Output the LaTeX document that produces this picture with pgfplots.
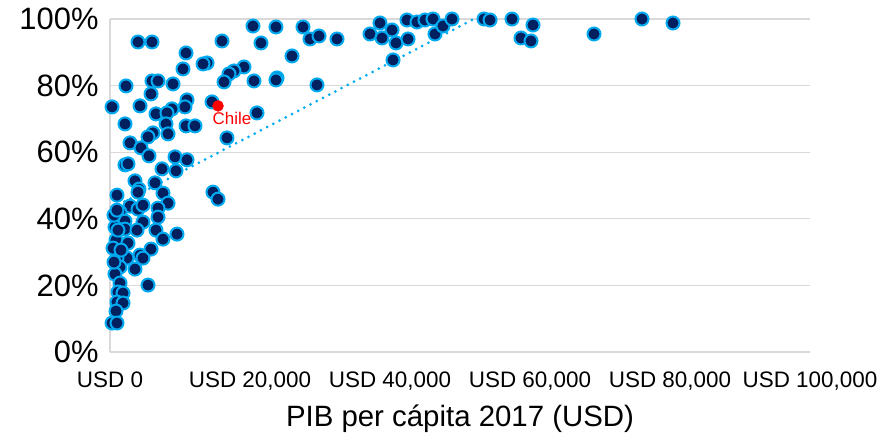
\documentclass[border=0pt]{standalone}
\usepackage{fontspec}
\setmainfont{Liberation Sans}
\usepackage{pgfplots}
\usepackage{pgfplotstable}
\pgfplotsset{compat=1.18}
\definecolor{navy}{RGB}{0,32,96}
\definecolor{lblue}{RGB}{0,170,240}
\definecolor{gridg}{RGB}{217,217,217}
\pgfplotstableread{
x y
4000 93.1
6000 93.1
10860 89.8
10430 85.0
13860 86.8
13290 86.5
2290 79.9
6000 81.4
6860 81.4
9000 80.5
5860 77.5
290 73.6
4290 73.9
11000 75.7
6570 71.5
8860 73.0
8140 71.8
10710 73.6
2140 68.5
8000 68.5
10860 67.9
12140 67.9
6140 65.8
5430 64.6
8290 65.5
2860 62.8
4430 61.3
5570 58.9
9290 58.6
11000 57.7
2140 56.2
2570 56.5
7430 55.0
9430 54.4
3570 51.4
6430 50.8
4140 48.9
7570 47.7
1000 47.1
14710 48.0
15430 45.9
4000 48.0
8290 44.7
2860 43.8
4000 42.9
4710 44.1
6860 43.2
6860 40.5
1430 42.0
2140 39.3
4710 39.0
710 37.5
2140 36.9
3860 36.6
6570 36.6
9570 35.4
7570 33.9
860 33.6
2570 32.7
5860 30.9
4290 29.1
2430 28.2
1000 28.2
4710 28.2
3570 24.9
1430 25.5
710 23.4
5430 20.1
1430 20.7
1140 18.0
1860 17.7
1000 15.0
1860 14.7
860 12.3
290 8.7
1000 8.7
570 41.1
430 31.2
570 27.0
1140 36.6
1570 30.6
1000 42.6
20430 97.9
23710 97.6
27570 97.6
28570 94.0
29860 94.9
32430 94.0
16000 93.4
21570 92.8
26000 88.9
19140 85.6
17710 84.4
17000 83.5
16290 81.1
20570 81.4
23860 82.3
23710 81.7
29570 80.2
14570 75.1
21000 71.8
16710 64.3
37140 95.5
38570 98.8
40290 96.7
38860 94.3
40860 92.8
42430 99.7
42570 94.0
43860 99.1
45000 99.7
46140 100.0
46430 95.5
47570 97.9
48860 100.0
40430 87.7
53430 100.0
54290 99.7
57430 100.0
60430 98.2
58710 94.3
60140 93.4
69140 95.5
76000 100.0
80430 98.8
}\countries
\begin{document}
\begin{tikzpicture}
\path[use as bounding box] (0,0) rectangle (887bp,440bp);
\begin{axis}[
  at={(110bp,88bp)}, anchor=south west,
  scale only axis, width=700bp, height=333bp,
  xmin=0, xmax=100000, ymin=0, ymax=100,
  scaled x ticks=false,
  axis x line*=bottom, axis y line*=left,
  axis line style={gridg, line width=1.5bp},
  x axis line style={-}, y axis line style={-},
  ymajorgrids, grid style={gridg, line width=1.2bp},
  major tick length=0pt,
  xtick={0,20000,40000,60000,80000,100000},
  xticklabels={{USD 0},{USD 20,000},{USD 40,000},{USD 60,000},{USD 80,000},{USD 100,000}},
  ytick={0,20,40,60,80,100},
  yticklabels={0\%,20\%,40\%,60\%,80\%,100\%},
  /pgf/number format/assume math mode=true,
  x tick label style={font=\fontsize{22.5}{26}\selectfont, yshift=-16bp},
  y tick label style={font=\fontsize{31}{34}\selectfont, xshift=-8bp},
  xlabel={PIB per cápita 2017 (USD)},
  xlabel style={font=\fontsize{29.5}{33}\selectfont, yshift=-8bp},
  clip=false,
]
\addplot[lblue, line width=3bp, line cap=round, dash pattern=on 0bp off 7bp] coordinates {(290,43.2) (51710,99.7)};
\addplot[only marks, mark=*, mark size=6.5bp, mark options={fill=navy, draw=lblue, line width=2bp}] table[x=x,y=y] {\countries};
\addplot[only marks, mark=*, mark size=5.5bp, mark options={fill=red, draw=red}] coordinates {(15430,73.9)}
  node[red, anchor=north, xshift=14bp, yshift=-3bp, font=\fontsize{17}{19}\selectfont] {Chile};
\end{axis}
\end{tikzpicture}
\end{document}
